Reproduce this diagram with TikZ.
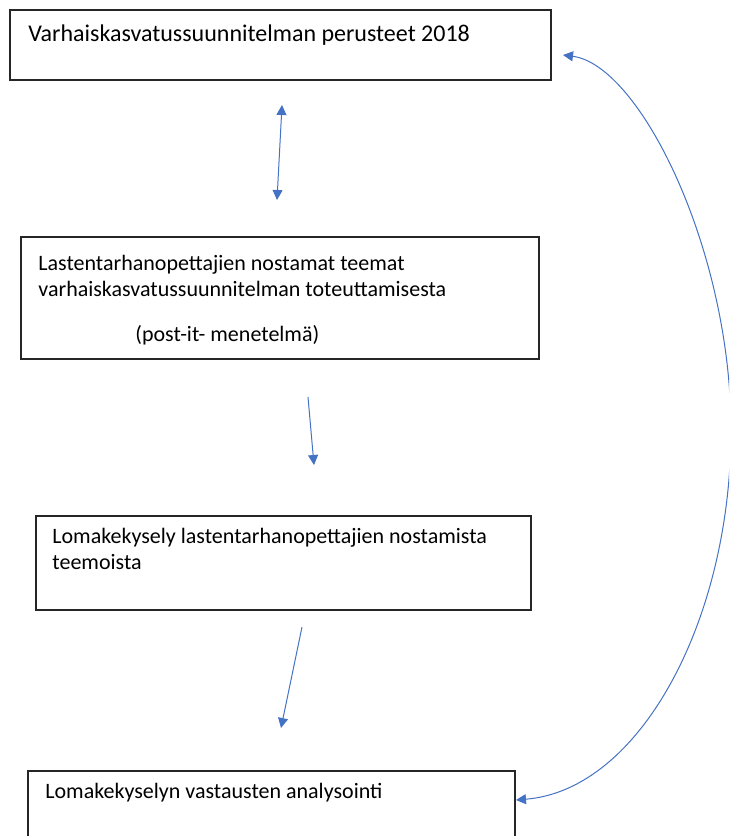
\documentclass[tikz,border=0pt]{standalone}
\usepackage{fontspec}
\setmainfont{Carlito}
\usepackage{tikz}
\usetikzlibrary{arrows.meta,positioning,calc}
\definecolor{arrowblue}{HTML}{4472C4}

\begin{document}
\begin{tikzpicture}[
    x=0.5pt, y=-0.5pt,
    frame/.style={rectangle, draw=black!85, line width=0.7pt, anchor=north west, inner sep=0pt, outer sep=0pt},
    txt/.style={anchor=base west, align=left, inner sep=0pt, font=\fontsize{11pt}{13pt}\selectfont},
    link/.style={draw=arrowblue, line width=0.5pt, >={Triangle[length=5pt, width=5pt]}}
]
\useasboundingbox (0,0) rectangle (729,836);
\clip (0,0) rectangle (729,836);

\node[frame, minimum width=270.5pt, minimum height=35pt] (vasu) at (10,10) {};
\node[frame, minimum width=259pt, minimum height=61pt] (teemat) at (21,237) {};
\node[frame, minimum width=247.5pt, minimum height=47pt] (kysely) at (36,516) {};
\node[frame, minimum width=243.5pt, minimum height=40pt] (analyysi) at (28,771) {};

\node[txt, font=\fontsize{12pt}{14pt}\selectfont] (vasutxt) at ([shift={(18,31)}]vasu.north west) {Varhaiskasvatussuunnitelman perusteet 2018};
\node[txt] (teemattxt) at ([shift={(17,104)}]teemat.north west) {Lastentarhanopettajien nostamat teemat\\varhaiskasvatussuunnitelman toteuttamisesta\\[9.5pt]\hspace*{48.5pt}(post-it- menetelmä)};
\node[txt] (kyselytxt) at ([shift={(16,53)}]kysely.north west) {Lomakekysely lastentarhanopettajien nostamista\\teemoista};
\node[txt] (analyysitxt) at ([shift={(17,27)}]analyysi.north west) {Lomakekyselyn vastausten analysointi};

\coordinate (vasuin) at (282,105);
\coordinate (teematin) at (277,200);
\coordinate (teematout) at (308,397);
\coordinate (kyselyin) at (314,465);
\coordinate (kyselyout) at (302,627);
\coordinate (analyysiin) at (281,728);
\coordinate (paluu) at (563,55);
\coordinate (analyysiout) at (516,800);

\draw[link, <->] (teematin) -- (vasuin);
\draw[link, ->] (teematout) -- (kyselyin);
\draw[link, ->] (kyselyout) -- (analyysiin);
\draw[link, <->] (analyysiout) .. controls (640,790) and (731,620) .. (731,430)
    .. controls (731,250) and (640,65) .. (paluu);

\end{tikzpicture}
\end{document}
